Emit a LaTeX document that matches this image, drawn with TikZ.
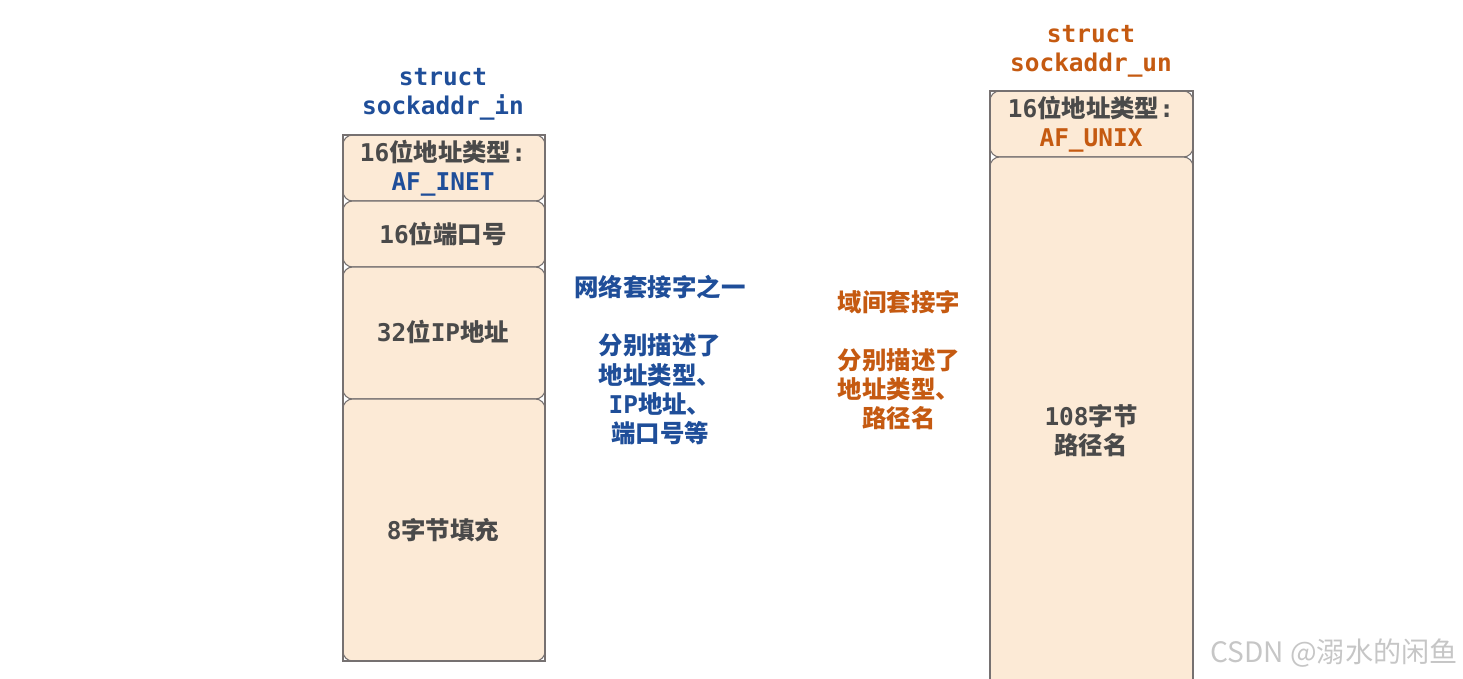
\documentclass[tikz,border=0pt]{standalone}
\usepackage{fontspec}
\setmainfont{Noto Sans CJK SC}
\setmonofont{DejaVu Sans Mono}
\definecolor{inblue}{HTML}{1F4E99}
\definecolor{unorange}{HTML}{C55A11}
\definecolor{fieldfill}{HTML}{FCEAD6}
\definecolor{fieldline}{HTML}{767171}
\definecolor{fieldtext}{HTML}{4A4A4A}
\newcommand{\mono}[1]{{\ttfamily #1}}

\begin{document}
\begin{tikzpicture}[x=0.02cm, y=-0.02cm,
  font=\fontsize{13.9}{16.6}\selectfont\bfseries,
  field/.style={draw=fieldline, fill=fieldfill, rounded corners=5.5pt, line width=0.6pt},
  frame/.style={draw=fieldline, line width=0.6pt},
  txt/.style={align=center, text=fieldtext, inner sep=0pt}]
\useasboundingbox (0,0) rectangle (1463,679);
\clip (0,0) rectangle (1463,679);

% sockaddr_in
\node[align=center, text=inblue, inner sep=0pt] (intitle) at (443,94) {\mono{struct}\\\mono{sockaddr\_in}};
\draw[field] (343,135) rectangle (545,201);
\draw[field] (343,201) rectangle (545,267);
\draw[field] (343,267) rectangle (545,399);
\draw[field] (343,399) rectangle (545,661);
\draw[frame] (343,135) rectangle (545,661);
\node[txt] (infamily) at (443,168) {\mono{16}位地址类型\mono{:}\\\textcolor{inblue}{\mono{AF\_INET}}};
\node[txt] (inport) at (443,234) {\mono{16}位端口号};
\node[txt] (inaddr) at (443,332) {\mono{32}位\mono{IP}地址};
\node[txt] (inzero) at (443,530) {\mono{8}字节填充};

\node[align=center, text=inblue, inner sep=0pt] (innote) at (660,360)
  {网络套接字之一\\ \\分别描述了\\地址类型、\\\mono{IP}地址、\\端口号等};

% sockaddr_un
\node[align=center, text=unorange, inner sep=0pt] (untitle) at (1091,51) {\mono{struct}\\\mono{sockaddr\_un}};
\draw[field] (990,91) rectangle (1193,157);
\draw[field] (990,157) rectangle (1193,705);
\draw[frame] (990,91) rectangle (1193,720);
\node[txt] (unfamily) at (1091,124) {\mono{16}位地址类型\mono{:}\\\textcolor{unorange}{\mono{AF\_UNIX}}};
\node[txt] (unpath) at (1091,431) {\mono{108}字节\\路径名};

\node[align=center, text=unorange, inner sep=0pt] (unnote) at (899,360)
  {域间套接字\\ \\分别描述了\\地址类型、\\路径名};

\node[text=gray!45, font=\fontsize{16}{18}\selectfont, inner sep=0pt] (mark) at (1334,653) {CSDN @溺水的闲鱼};
\end{tikzpicture}
\end{document}
